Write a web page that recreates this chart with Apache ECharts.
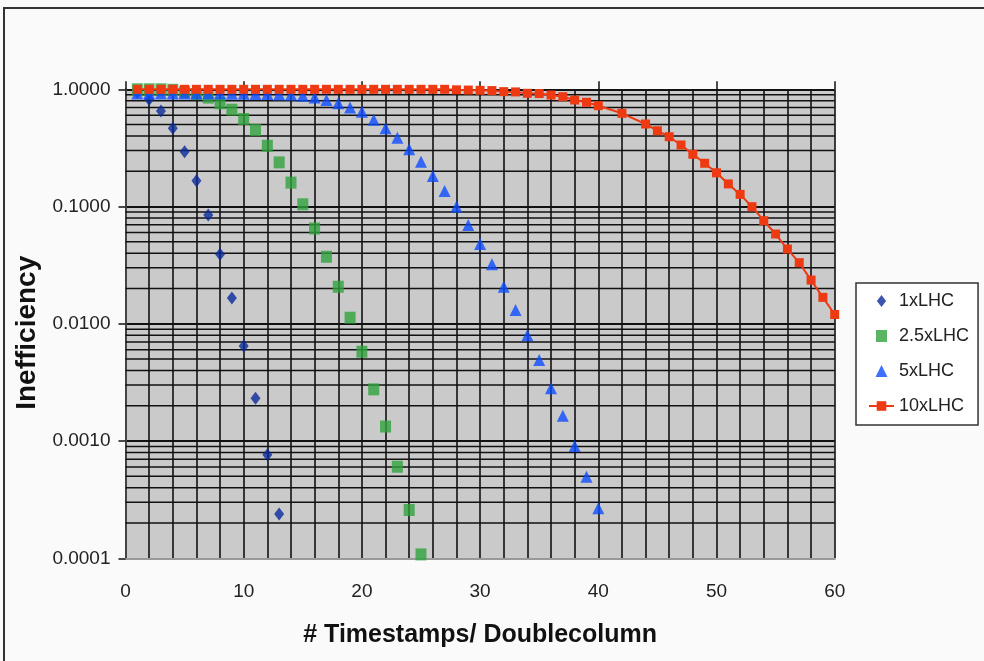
<!DOCTYPE html>
<html>
<head>
<meta charset="utf-8">
<script src="https://cdn.jsdelivr.net/npm/echarts@6/dist/echarts.min.js"></script>
<style>
  html, body { margin: 0; padding: 0; background: #fafafa; }
  #chart { width: 984px; height: 661px; }
  #frame { position: absolute; left: 3px; top: 7px; width: 990px; height: 670px;
           border-top: 2px solid #333; border-left: 2px solid #333; pointer-events: none; }
</style>
</head>
<body>
<div id="chart"></div>
<div id="frame"></div>
<script>
// ---- data ----
const seriesNames = ['1xLHC', '2.5xLHC', '5xLHC', '10xLHC'];

const x1 = [1, 2, 3, 4, 5, 6, 7, 8, 9, 10, 11, 12, 13];
const y1 = [0.94, 0.82, 0.653, 0.465, 0.294, 0.166, 0.0847, 0.0392, 0.0166, 0.00647, 0.00232, 0.000765, 0.000239];

const x25 = [1, 2, 3, 4, 5, 6, 7, 8, 9, 10, 11, 12, 13, 14, 15, 16, 17, 18, 19, 20, 21, 22, 23, 24, 25];
const y25 = [1.0, 1.0, 1.0, 0.99, 0.95, 0.91, 0.85, 0.76, 0.67, 0.558, 0.45, 0.33, 0.238, 0.16, 0.1045,
             0.065, 0.0373, 0.0207, 0.01127, 0.00578, 0.00276, 0.00133, 0.000604, 0.000258, 0.000108];

const x5 = [1, 2, 3, 4, 5, 6, 7, 8, 9, 10, 11, 12, 13, 14, 15, 16, 17, 18, 19, 20,
            21, 22, 23, 24, 25, 26, 27, 28, 29, 30, 31, 32, 33, 34, 35, 36, 37, 38, 39, 40];
const y5 = [0.92, 0.92, 0.92, 0.92, 0.92, 0.92, 0.92, 0.92, 0.915, 0.915, 0.91, 0.91, 0.905, 0.90, 0.88,
            0.85, 0.81, 0.76, 0.70, 0.645, 0.55, 0.465, 0.387, 0.308, 0.241, 0.182, 0.136, 0.0997, 0.0696, 0.048,
            0.0322, 0.0207, 0.0131, 0.0080, 0.00491, 0.00282, 0.00164, 0.000907, 0.000497, 0.000267];

const x10 = [1, 2, 3, 4, 5, 6, 7, 8, 9, 10, 11, 12, 13, 14, 15, 16, 17, 18, 19, 20,
             21, 22, 23, 24, 25, 26, 27, 28, 29, 30, 31, 32, 33, 34, 35, 36, 37, 38, 39, 40,
             42, 44, 45, 46, 47, 48, 49, 50, 51, 52, 53, 54, 55, 56, 57, 58, 59, 60];
const y10 = [1.0, 1.0, 1.0, 1.0, 1.0, 1.0, 1.0, 1.0, 1.0, 1.0, 1.0, 1.0, 1.0, 1.0, 1.0, 1.0, 1.0, 1.0, 1.0, 1.0,
             1.0, 1.0, 1.0, 1.0, 1.0, 1.0, 1.0, 0.99, 0.985, 0.98, 0.975, 0.955, 0.95, 0.925, 0.92, 0.894, 0.865, 0.81, 0.775, 0.725,
             0.624, 0.506, 0.443, 0.394, 0.335, 0.279, 0.234, 0.194, 0.156, 0.127, 0.0997, 0.0757, 0.0583, 0.0434, 0.0332, 0.0236, 0.0168, 0.012];

const xTickLabels = ['0', '10', '20', '30', '40', '50', '60'];
const yTickLabels = ['0.0001', '0.0010', '0.0100', '0.1000', '1.0000'];
const yDecades = [0.0001, 0.001, 0.01, 0.1, 1];
const minorMultipliers = [2, 3, 4, 5, 6, 7, 8, 9];

// ---- helpers ----
function zip(xs, ys) { return xs.map((x, i) => [x, ys[i]]); }
const minorGridValues = [];
yDecades.slice(0, -1).forEach(d => minorMultipliers.forEach(k => minorGridValues.push(k * d)));

const regular = "'Liberation Sans', Arial, sans-serif";

const minorGridSeries = minorGridValues.map(v => ({
  type: 'line', data: [[0, v], [60, v]], symbol: 'none', silent: true, z: 1,
  lineStyle: { color: '#111', width: 1.5 }, emphasis: { disabled: true }
}));

const chart = echarts.init(document.getElementById('chart'), null, { renderer: 'canvas' });
const option = {
  backgroundColor: '#fafafa',
  animation: false,
  grid: { left: 125.5, right: 149.3, top: 89.3, bottom: 102.7, show: true,
          backgroundColor: '#cacaca', borderWidth: 0 },
  legend: {
    orient: 'vertical', left: 856, top: 283,
    padding: [9, 9, 10, 12], itemGap: 17, itemWidth: 25, itemHeight: 12,
    backgroundColor: '#ffffff', borderColor: '#333', borderWidth: 1.5, borderRadius: 0,
    symbolKeepAspect: true,
    textStyle: { fontSize: 18, fontFamily: regular, color: '#222' },
    data: [
      { name: seriesNames[0], icon: 'path://M5,0 L10,6.5 L5,13 L0,6.5 Z' },
      { name: seriesNames[1], icon: 'path://M0,0 L11,0 L11,12 L0,12 Z' },
      { name: seriesNames[2], icon: 'path://M6,0 L12,12 L0,12 Z' },
      { name: seriesNames[3] }
    ]
  },
  xAxis: [
    {
      type: 'value', min: 0, max: 60, interval: 2, position: 'bottom',
      axisLine: { show: true, onZero: false, lineStyle: { color: '#999', width: 2 } },
      axisTick: { show: false },
      axisLabel: {
        margin: 24, fontSize: 19, fontFamily: regular, color: '#222',
        formatter: v => { const i = xTickLabels.indexOf(String(v)); return i >= 0 ? xTickLabels[i] : ''; }
      },
      splitLine: { show: true, lineStyle: { color: '#111', width: 1.6 } },
      name: '# Timestamps/ Doublecolumn', nameLocation: 'middle', nameGap: 64,
      nameTextStyle: { fontSize: 25, fontWeight: 'bold', fontFamily: regular, color: '#111' }
    },
    {
      type: 'value', min: 0, max: 60, interval: 10, position: 'top',
      axisLine: { show: false },
      axisTick: { show: true, length: 8, lineStyle: { color: '#111', width: 1.5 } },
      axisLabel: { show: false },
      splitLine: { show: false }
    }
  ],
  yAxis: {
    type: 'log', logBase: 10, min: 0.0001, max: 1,
    axisLine: { show: true, lineStyle: { color: '#444', width: 2 } },
    axisTick: { show: true, length: 7, lineStyle: { color: '#111', width: 1.5 } },
    axisLabel: {
      margin: 15, fontSize: 19, fontFamily: regular, color: '#222',
      formatter: v => {
        const e = Math.round(Math.log10(v));
        const i = yDecades.findIndex(d => Math.abs(Math.log10(d) - e) < 1e-6);
        return i >= 0 && Math.abs(Math.log10(v) - e) < 1e-6 ? yTickLabels[i] : '';
      }
    },
    splitLine: { show: true, lineStyle: { color: '#111', width: 2.2 } },
    name: 'Inefficiency', nameLocation: 'middle', nameGap: 78,
    nameTextStyle: { fontSize: 28, fontWeight: 'bold', fontFamily: regular, color: '#111',
                     padding: [0, 18, 0, 0] }
  },
  series: minorGridSeries.concat([
    {
      name: seriesNames[0], type: 'scatter', symbol: 'diamond', symbolSize: [10, 13], clip: false,
      itemStyle: { color: '#0a2a9a' }, data: zip(x1, y1), z: 3
    },
    {
      name: seriesNames[1], type: 'scatter', symbol: 'rect', symbolSize: [11, 12], clip: false,
      itemStyle: { color: '#2fa33d' }, data: zip(x25, y25), z: 3
    },
    {
      name: seriesNames[2], type: 'scatter', symbol: 'triangle', symbolSize: 12, clip: false,
      itemStyle: { color: '#0d4cff' }, data: zip(x5, y5), z: 3
    },
    {
      name: seriesNames[3], type: 'line', symbol: 'rect', symbolSize: 9, showSymbol: true, clip: false,
      lineStyle: { color: '#ee3a12', width: 2 }, itemStyle: { color: '#ee3a12' },
      data: zip(x10, y10), z: 4
    }
  ])
};
chart.setOption(option);
</script>
</body>
</html>
